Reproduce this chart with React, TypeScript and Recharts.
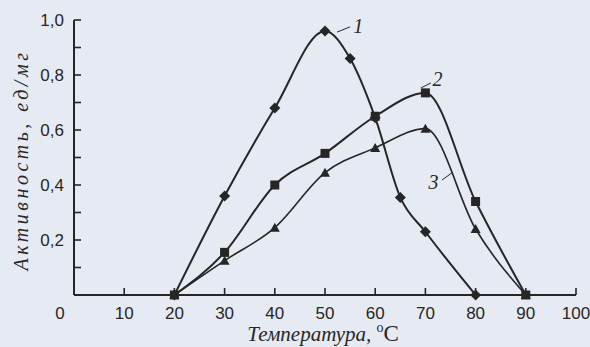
import { Line, LineChart, ReferenceDot, ReferenceLine, XAxis, YAxis } from "recharts";

const temperatures = [20, 30, 40, 50, 55, 60, 65, 70, 80, 90];
const curve1 = [0, 0.36, 0.68, 0.96, 0.86, 0.645, 0.355, 0.23, 0, null];
const curve2 = [0, 0.155, 0.4, 0.515, null, 0.65, null, 0.735, 0.34, 0];
const curve3 = [0, 0.125, 0.245, 0.445, null, 0.535, null, 0.605, 0.24, 0];

const xTicks = [0, 10, 20, 30, 40, 50, 60, 70, 80, 90, 100];
const yTicks = [0, 0.1, 0.2, 0.3, 0.4, 0.5, 0.6, 0.7, 0.8, 0.9, 1.0];
const yLabelled = [0.2, 0.4, 0.6, 0.8, 1.0];

const INK = "#262626";
const PAPER = "#e6eaf3";
const SANS = "'Liberation Sans', Arial, sans-serif";
const SERIF = "'Liberation Serif', 'Times New Roman', serif";

const W = 590;
const H = 347;
const MARGIN = { top: 20, right: 14, bottom: 12, left: 30 };
const Y_W = 44;
const X_H = 40;
const PLOT_L = MARGIN.left + Y_W;
const PLOT_R = W - MARGIN.right;
const PLOT_T = MARGIN.top;
const PLOT_B = H - MARGIN.bottom - X_H;

const data = temperatures.map((t, i) => ({ t, a: curve1[i], b: curve2[i], c: curve3[i] }));

function XTick({ x, y, payload }: any) {
  const v = payload.value;
  return (
    <text x={v === 0 ? x - 14 : x} y={y + 24} textAnchor="middle" fontFamily={SANS} fontSize={17} fill={INK}>
      {v}
    </text>
  );
}

function YTick({ x, y, payload }: any) {
  const v = Math.round(payload.value * 10) / 10;
  if (!yLabelled.includes(v)) return <g />;
  return (
    <text x={x - 10} y={y + 6} textAnchor="end" fontFamily={SANS} fontSize={17} fill={INK}>
      {v.toFixed(1).replace(".", ",")}
    </text>
  );
}

function Diamond({ cx, cy }: any) {
  if (cx == null || cy == null) return <g />;
  const r = 5.5;
  return <path d={`M${cx},${cy - r}L${cx + r},${cy}L${cx},${cy + r}L${cx - r},${cy}Z`} fill={INK} />;
}

function Square({ cx, cy }: any) {
  if (cx == null || cy == null) return <g />;
  return <rect x={cx - 4.5} y={cy - 4.5} width={9} height={9} fill={INK} />;
}

function Triangle({ cx, cy }: any) {
  if (cx == null || cy == null) return <g />;
  return <path d={`M${cx},${cy - 5}L${cx + 5},${cy + 4}L${cx - 5},${cy + 4}Z`} fill={INK} />;
}

function curveLabel(text: string) {
  return ({ cx, cy }: any) => (
    <text x={cx} y={cy + 7} textAnchor="middle" fontFamily={SERIF} fontStyle="italic" fontSize={20} fill={INK}>
      {text}
    </text>
  );
}

// inward tick marks, placed on the same linear mapping as the axes (domains 0..100 and 0..1)
function TickMarks() {
  const xs = xTicks.slice(1).map((v) => PLOT_L + ((PLOT_R - PLOT_L) * v) / 100);
  const ys = yTicks.slice(1).map((v) => PLOT_B - (PLOT_B - PLOT_T) * v);
  return (
    <g>
      {xs.map((px, i) => (
        <line key={"x" + i} x1={px} x2={px} y1={PLOT_B} y2={PLOT_B - 7} stroke={INK} strokeWidth={1.6} />
      ))}
      {ys.map((py, i) => (
        <line key={"y" + i} x1={PLOT_L} x2={PLOT_L + 7} y1={py} y2={py} stroke={INK} strokeWidth={1.6} />
      ))}
    </g>
  );
}

export default function App() {
  return (
    <div style={{ position: "absolute", left: 0, top: 0, width: W, height: H, background: PAPER }}>
      <LineChart width={W} height={H} data={data} margin={MARGIN}>
        <XAxis
          dataKey="t"
          type="number"
          domain={[0, 100]}
          ticks={xTicks}
          tickSize={0}
          tickMargin={0}
          tick={<XTick />}
          tickLine={false}
          height={X_H}
          axisLine={{ stroke: INK, strokeWidth: 2 }}
        />
        <YAxis
          type="number"
          domain={[0, 1]}
          ticks={yTicks}
          tickSize={0}
          tickMargin={0}
          tick={<YTick />}
          tickLine={false}
          width={Y_W}
          axisLine={{ stroke: INK, strokeWidth: 2 }}
        />
        <Line type="monotone" dataKey="a" stroke={INK} strokeWidth={2} dot={<Diamond />} connectNulls isAnimationActive={false} />
        <Line type="monotone" dataKey="b" stroke={INK} strokeWidth={2} dot={<Square />} connectNulls isAnimationActive={false} />
        <Line type="monotone" dataKey="c" stroke={INK} strokeWidth={1.6} dot={<Triangle />} connectNulls isAnimationActive={false} />
        <ReferenceLine segment={[{ x: 52.4, y: 0.956 }, { x: 55, y: 0.975 }]} stroke={INK} strokeWidth={1} />
        <ReferenceLine segment={[{ x: 69.1, y: 0.753 }, { x: 71.1, y: 0.771 }]} stroke={INK} strokeWidth={1} />
        <ReferenceLine segment={[{ x: 73.3, y: 0.418 }, { x: 75.5, y: 0.447 }]} stroke={INK} strokeWidth={1} />
        <ReferenceDot x={56.6} y={0.98} r={0} shape={curveLabel("1")} />
        <ReferenceDot x={72.4} y={0.786} r={0} shape={curveLabel("2")} />
        <ReferenceDot x={71.6} y={0.41} r={0} shape={curveLabel("3")} />
        <TickMarks />
        <text x={323} y={341} textAnchor="middle" fontFamily={SERIF} fontStyle="italic" fontSize={21} fill={INK}>
          Температура,{"  "}
          <tspan fontStyle="normal" fontSize={14} dy={-9}>o</tspan>
          <tspan fontStyle="normal" fontSize={23} dy={9}>C</tspan>
        </text>
        <text
          x={0}
          y={0}
          transform="translate(28,160) rotate(-90)"
          textAnchor="middle"
          fontFamily={SERIF}
          fontStyle="italic"
          fontSize={20}
          letterSpacing={3.5}
          fill={INK}
        >
          Активность, ед/мг
        </text>
      </LineChart>
    </div>
  );
}
